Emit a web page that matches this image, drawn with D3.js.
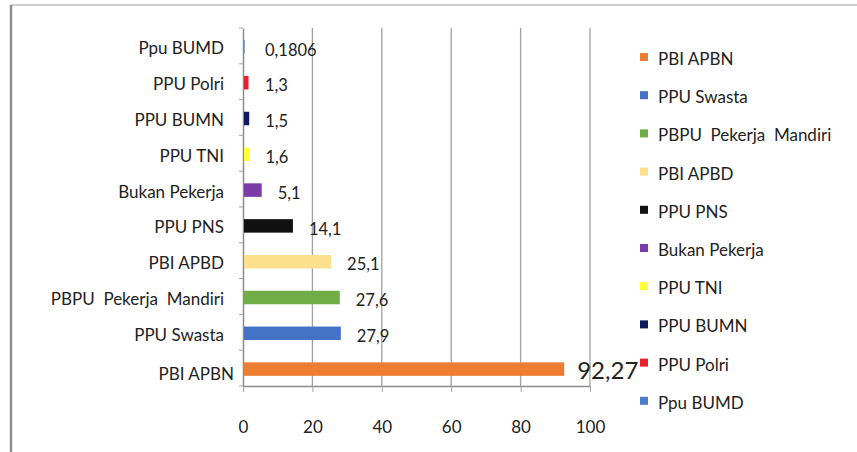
<!DOCTYPE html>
<html>
<head>
<meta charset="utf-8">
<script src="https://cdn.jsdelivr.net/npm/d3@7"></script>
<style>
  body { margin: 0; background: #fff; }
  text { font-family: Lato, "Open Sans", sans-serif; white-space: pre; }
</style>
</head>
<body>
<div id="chart"></div>
<script>
// categories top to bottom, as in the picture
const categories = ["Ppu BUMD", "PPU Polri", "PPU BUMN", "PPU TNI", "Bukan Pekerja",
  "PPU PNS", "PBI APBD", "PBPU  Pekerja  Mandiri", "PPU Swasta", "PBI APBN"];
const values = [0.1806, 1.3, 1.5, 1.6, 5.1, 14.1, 25.1, 27.6, 27.9, 92.27];
const colors = ["#4a7cc9", "#e8202a", "#0d1a5c", "#ffff33", "#7a3aa8",
  "#111111", "#fde08e", "#70ad47", "#4472c4", "#ed7d31"];
const xTicks = [0, 20, 40, 60, 80, 100];

const W = 857, H = 452;
const plot = { left: 243, right: 590, top: 28, bottom: 386 };

const svg = d3.select("#chart").append("svg")
    .attr("width", W)
    .attr("height", H);

// frame
svg.append("line").attr("x1", 11).attr("x2", W).attr("y1", 5).attr("y2", 5)
    .attr("stroke", "#cfcfcf").attr("stroke-width", 2);
svg.append("line").attr("x1", 11).attr("x2", 11).attr("y1", 5).attr("y2", H)
    .attr("stroke", "#8f8f8f").attr("stroke-width", 2.5);

const x = d3.scaleLinear().domain([0, 100]).range([plot.left, plot.right]);
const y = d3.scaleBand().domain(categories).range([plot.top, plot.bottom]);

// gridlines
svg.append("g").selectAll("line")
    .data(xTicks.slice(1))
    .join("line")
    .attr("x1", d => x(d)).attr("x2", d => x(d))
    .attr("y1", plot.top).attr("y2", plot.bottom)
    .attr("stroke", "#a0a0a0").attr("stroke-width", 1.3);

// x axis: line, ticks and labels far below
const xAxis = svg.append("g")
    .attr("transform", "translate(0," + plot.bottom + ")")
    .call(d3.axisBottom(x).tickValues(xTicks).tickSize(6).tickPadding(29).tickSizeOuter(0));
xAxis.select(".domain").attr("stroke", "#8c8c8c").attr("stroke-width", 1.5);
xAxis.selectAll(".tick line").attr("stroke", "#a6a6a6");
xAxis.selectAll(".tick text")
    .attr("fill", "#222").style("font-size", "17px");

// y axis
const yAxis = svg.append("g")
    .attr("transform", "translate(" + plot.left + ",0)")
    .call(d3.axisLeft(y).tickSize(0).tickPadding(19));
yAxis.select(".domain").attr("stroke", "#8c8c8c").attr("stroke-width", 1.5);
yAxis.selectAll(".tick text")
    .attr("fill", "#222").style("font-size", "17px")
    .attr("y", 3)
    .attr("dy", (d, i) => i == categories.length - 1 ? "0.55em" : "0.32em")
    .attr("dx", (d, i) => i == categories.length - 1 ? 10 : 0);
// small ticks between the categories
svg.append("g").selectAll("line")
    .data(categories.concat(["end"]))
    .join("line")
    .attr("x1", plot.left - 4).attr("x2", plot.left)
    .attr("y1", (d, i) => plot.top + i * y.step())
    .attr("y2", (d, i) => plot.top + i * y.step())
    .attr("stroke", "#a6a6a6");

// bars
const barH = 13.5;
svg.append("g").selectAll("rect")
    .data(categories)
    .join("rect")
    .attr("x", x(0) + 1)
    .attr("y", d => y(d) + y.bandwidth() / 2 - barH / 2 + 1)
    .attr("width", (d, i) => x(values[i]) - x(0))
    .attr("height", barH)
    .attr("fill", (d, i) => colors[i]);

// value labels
const last = categories.length - 1;
svg.append("g").selectAll("text")
    .data(categories)
    .join("text")
    .attr("x", (d, i) => i == last ? x(values[i]) + 14 : Math.max(x(values[i]) + 17, x(0) + 22))
    .attr("y", d => y(d) + y.bandwidth() / 2 + 4)
    .attr("dy", (d, i) => i == last ? "0.3em" : "0.35em")
    .attr("fill", "#222")
    .style("font-size", (d, i) => i == last ? "24px" : "16.5px")
    .text((d, i) => String(values[i]).replace(".", ","));

// legend, reverse order
const legendItems = categories.slice().reverse();
const legendColors = colors.slice().reverse();
const legend = svg.append("g").attr("transform", "translate(640,59)");
const lg = legend.selectAll("g")
    .data(legendItems)
    .join("g")
    .attr("transform", (d, i) => "translate(0," + i * 38.2 + ")");
lg.append("rect")
    .attr("x", 0).attr("y", -6)
    .attr("width", 8).attr("height", 8)
    .attr("fill", (d, i) => legendColors[i]);
lg.append("text")
    .attr("x", 18).attr("y", 0)
    .attr("dy", "0.35em")
    .attr("fill", "#222")
    .style("font-size", "17px")
    .text(d => d);
</script>
</body>
</html>
